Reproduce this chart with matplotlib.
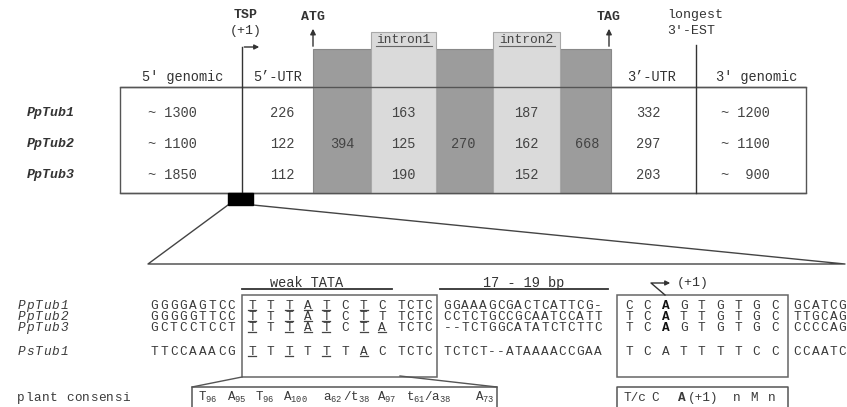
import matplotlib
matplotlib.use("Agg")
import matplotlib.pyplot as plt
from matplotlib.patches import Rectangle

plt.rcParams['font.family'] = ['Liberation Mono', 'DejaVu Sans']
plt.rcParams['mathtext.fontset'] = 'custom'
plt.rcParams['mathtext.rm'] = 'Liberation Mono'
plt.rcParams['mathtext.it'] = 'Liberation Mono:italic'
plt.rcParams['mathtext.bf'] = 'Liberation Mono:bold'

# ---------------- data ----------------
genes = ["PpTub1", "PpTub2", "PpTub3"]
region_labels = ["5' genomic", "5\u2019-UTR", "3\u2019-UTR", "3' genomic"]
genomic5 = ["~ 1300", "~ 1100", "~ 1850"]
utr5 = ["226", "122", "112"]
exon1 = ["", "394", ""]
intron1 = ["163", "125", "190"]
exon2 = ["", "270", ""]
intron2 = ["187", "162", "152"]
exon3 = ["", "668", ""]
utr3 = ["332", "297", "203"]
genomic3 = ["~ 1200", "~ 1100", "~  900"]
intron_names = ["intron1", "intron2"]

seq_names = ["PpTub1", "PpTub2", "PpTub3", "PsTub1"]
seq_left = ["GGGGAGTCC", "GGGGGTTCC", "GCTCCTCCT", "TTCCAAACG"]
seq_tata = ["TTTATCTC", "TTTATCTT", "TTTATCTA", "TTTTTTAC"]
tata_underline = ["10111010", "10111010", "10111011", "10101010"]
seq_tctc = ["TCTC", "TCTC", "TCTC", "TCTC"]
seq_mid = ["GGAAAGCGACTCATTCG-", "CCTCTGCCGCAATCCATT", "--TCTGGCATATCTCTTC", "TCTCT--ATAAAACCGAA"]
seq_inr = ["CCAGTGTGC", "TCATTGTGC", "TCAGTGTGC", "TCATTTTCC"]
inr_bold = [True, True, True, False]
seq_right = ["GCATCG", "TTGCAG", "CCCCAG", "CCAATC"]
tata_consensus = [("T", "96"), ("A", "95"), ("T", "96"), ("A", "100"), ("a", "62"), ("/t", "38"),
                  ("A", "97"), ("t", "61"), ("/a", "38"), ("A", "73")]
inr_consensus = ["T/c", "C", "A", "(+1)", "n", "M", "n"]

# ---------------- layout ----------------
TXT = '#333333'
LN = '#555555'
fig = plt.figure(figsize=(8.47, 4.07), dpi=100)
ax = fig.add_axes([0, 0, 1, 1])
ax.set_xlim(0, 847)
ax.set_ylim(407, 0)
ax.axis('off')

bx = [120, 242, 313, 371, 436, 493, 560, 611, 696, 806]
box_top, box_bot = 87, 193
row_y = [113, 144, 175]

# outer box
ax.add_patch(Rectangle((bx[0], box_top), bx[-1] - bx[0], box_bot - box_top,
                       fc='white', ec=LN, lw=1.0, zorder=1))
# exons / introns
for i in (2, 4, 6):
    ax.add_patch(Rectangle((bx[i], 49), bx[i + 1] - bx[i], box_bot - 49,
                           fc='#9c9c9c', ec='#888888', lw=0.8, zorder=2))
for k, i in enumerate((3, 5)):
    ax.add_patch(Rectangle((bx[i], 32), bx[i + 1] - bx[i], box_bot - 32,
                           fc='#dadada', ec='#a8a8a8', lw=0.8, zorder=2))
    cx = (bx[i] + bx[i + 1]) / 2
    ax.text(cx, 40, intron_names[k], ha='center', va='center', fontsize=9.3, color='#444444', zorder=4)
    ax.plot([cx - 28, cx + 28], [46, 46], color='#666666', lw=0.8, zorder=4)
ax.plot([bx[0], bx[-1]], [box_top, box_top], color=LN, lw=1.0, zorder=3)
ax.plot([bx[0], bx[-1]], [box_bot, box_bot], color=LN, lw=1.0, zorder=3)

# TSP line & arrow
ax.plot([bx[1], bx[1]], [box_bot, 47], color='#333333', lw=1.0, zorder=3)
ax.annotate('', xy=(262, 47), xytext=(bx[1] - 0.5, 47),
            arrowprops=dict(arrowstyle='-|>', color='#333333', lw=1.0, mutation_scale=7))
ax.text(246, 15, 'TSP', ha='center', va='center', fontsize=9.5, fontweight='bold', color=TXT)
ax.text(246, 31, '(+1)', ha='center', va='center', fontsize=9.5, color=TXT)
# ATG / TAG arrows
for xx, lab in ((bx[2], 'ATG'), (609, 'TAG')):
    ax.annotate('', xy=(xx, 26), xytext=(xx, 49),
                arrowprops=dict(arrowstyle='-|>', color='#333333', lw=1.0, mutation_scale=8))
    ax.text(xx, 17, lab, ha='center', va='center', fontsize=9.5, fontweight='bold', color=TXT)
# longest EST
ax.plot([bx[8], bx[8]], [box_bot, 45], color='#333333', lw=1.0, zorder=3)
ax.text(667, 15, 'longest', ha='left', va='center', fontsize=9.5, color=TXT)
ax.text(667, 31, "3'-EST", ha='left', va='center', fontsize=9.5, color=TXT)

# region headers
hdr_x = [183, 278, 652, 757]
for x, lab in zip(hdr_x, region_labels):
    ax.text(x, 77, lab, ha='center', va='center', fontsize=9.8, color=TXT)

# table values
cols = [genomic5, utr5, exon1, intron1, exon2, intron2, exon3, utr3, genomic3]
col_x = [172, 282, 342, 403, 463, 526, 587, 648, 745]
for x, vals in zip(col_x, cols):
    for y, v in zip(row_y, vals):
        if v:
            ax.text(x, y, v, ha='center', va='center', fontsize=9.8, color='#444444', zorder=5)
for y, g in zip(row_y, genes):
    ax.text(27, y, g, ha='left', va='center', fontsize=9.5, style='italic', fontweight='bold', color=TXT)

# black marker and zoom lines
ax.add_patch(Rectangle((228, box_bot), 25, 12, fc='black', ec='black', zorder=4))
ax.plot([228, 148, 845, 253], [205, 264, 264, 205], color='#444444', lw=1.0)

# ---------------- sequence alignment ----------------
sy = [305, 316, 326.5, 351]
FS = 9.2
SC = '#3a3a3a'
BL = 4.2  # baseline offset from row centre


def spaced(s, x0, step, y, fs=FS, **kw):
    for i, c in enumerate(s):
        ax.text(x0 + i * step, y + BL, c, ha='center', va='baseline', fontsize=fs, color=SC, **kw)


ax.text(307, 283, 'weak TATA', ha='center', va='center', fontsize=9.8, color=TXT)
ax.plot([242, 392], [289, 289], color='#333333', lw=1.3)
ax.text(524, 283, '17 - 19 bp', ha='center', va='center', fontsize=9.8, color=TXT)
ax.plot([440, 608], [289, 289], color='#333333', lw=1.3)

ax.add_patch(Rectangle((242, 295), 437 - 242, 377 - 295, fc='none', ec='#666666', lw=1.1))
ax.add_patch(Rectangle((617, 295), 788 - 617, 377 - 295, fc='none', ec='#666666', lw=1.1))

for k in range(4):
    y = sy[k]
    spaced(seq_names[k], 21.3, 8.6, y, style='italic')
    spaced(seq_left[k], 154.5, 9.6, y)
    spaced(seq_tata[k], 252, 18.6, y)
    for i, u in enumerate(tata_underline[k]):
        if u == '1':
            cx = 252 + i * 18.6
            ax.plot([cx - 4, cx + 4], [y + 5.4, y + 5.4], color='#444444', lw=0.9)
    spaced(seq_tctc[k], 401.5, 9.0, y)
    spaced(seq_mid[k], 447.5, 8.85, y)
    for i, c in enumerate(seq_inr[k]):
        bold = inr_bold[k] and i == 2
        ax.text(629 + i * 18.2, y + BL, c, ha='center', va='baseline', fontsize=FS,
                color='#111111' if bold else SC, fontweight='bold' if bold else 'normal')
    spaced(seq_right[k], 797.5, 9.0, y)

# +1 bent arrow
ax.plot([665, 651, 662], [295, 283, 283], color='#333333', lw=1.0)
ax.annotate('', xy=(673, 283), xytext=(660, 283),
            arrowprops=dict(arrowstyle='-|>', color='#333333', lw=1.0, mutation_scale=7))
ax.text(677, 283, '(+1)', ha='left', va='center', fontsize=9.5, color=TXT)

# consensus
spaced('plant consensi', 21, 8.1, 397)
ax.plot([242, 192], [377, 387], color='#555555', lw=1.0)
ax.plot([400, 497], [376, 387], color='#555555', lw=1.0)
ax.plot([192, 192, 497, 497], [410, 387, 387, 410], color='#555555', lw=1.1)
cons_x = [198, 227, 255, 283, 323, 343, 377, 406, 424, 475]
for x, (b, s) in zip(cons_x, tata_consensus):
    ax.text(x, 397 + BL, b + '$_{' + s + '}$', ha='left', va='baseline', fontsize=9.0, color=SC)

ax.plot([617, 617, 788, 788], [410, 387, 387, 410], color='#555555', lw=1.1)
inr_x = [623, 651, 678, 688, 733, 750, 768]
for x, t in zip(inr_x, inr_consensus):
    ax.text(x, 397 + BL, t, ha='left', va='baseline', fontsize=FS, color=SC,
            fontweight='bold' if t == 'A' else 'normal')

fig.savefig('out.png', dpi=100)
